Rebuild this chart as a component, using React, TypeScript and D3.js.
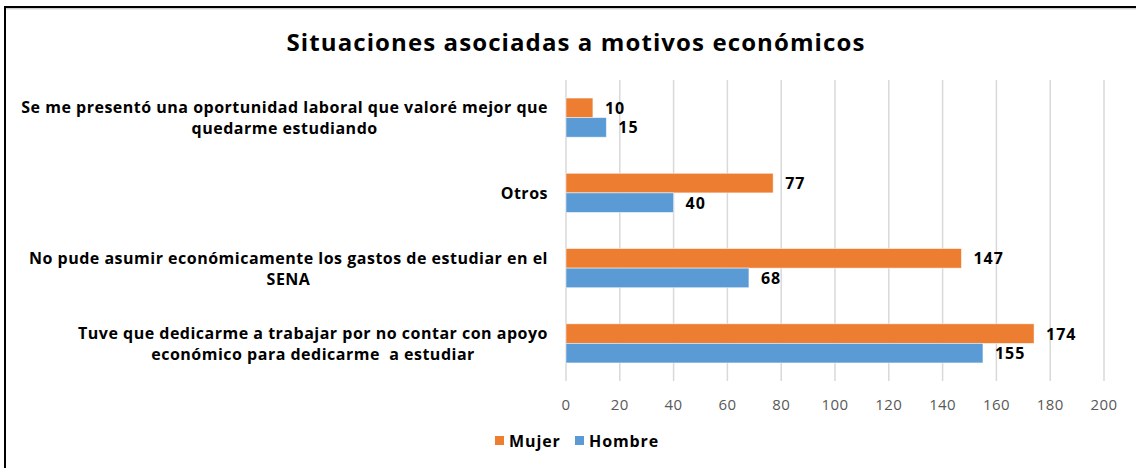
import React, { useMemo } from "react";
import * as d3 from "d3";

const categories: string[][] = [
  ["Se me presentó una oportunidad laboral que valoré mejor que", "quedarme estudiando"],
  ["Otros"],
  ["No pude asumir económicamente los gastos de estudiar en el", "SENA"],
  ["Tuve que dedicarme a trabajar por no contar con apoyo", "económico para dedicarme  a estudiar"],
];
const mujer = [10, 77, 147, 174];
const hombre = [15, 40, 68, 155];
const seriesNames = ["Mujer", "Hombre"];
const colors = ["#ED7D31", "#5B9BD5"];
const xTicks = [0, 20, 40, 60, 80, 100, 120, 140, 160, 180, 200];
const title = "Situaciones asociadas a motivos económicos";

const W = 1136;
const H = 468;
const FONT = "'Open Sans', sans-serif";
const plot = { left: 566, right: 1104, top: 80, bottom: 381 };
const LS = 0.5;

function measure(text: string, font: string): number {
  if (typeof document === "undefined") return text.length * 8;
  const c = document.createElement("canvas");
  const ctx = c.getContext("2d")!;
  ctx.font = font;
  return ctx.measureText(text).width + LS * text.length;
}

export default function App() {
  const x = d3.scaleLinear().domain([0, 200]).range([plot.left, plot.right]);
  const y = d3
    .scaleBand<number>()
    .domain(d3.range(categories.length))
    .range([plot.top, plot.bottom])
    .paddingInner(0.48)
    .paddingOuter(0.24);
  const sub = d3.scaleBand<number>().domain([0, 1]).range([0, y.bandwidth()]);
  const series = [mujer, hombre];
  const labelFont = `bold 16px ${FONT}`;
  const blocks = useMemo(
    () => categories.map((lines) => Math.max(...lines.map((l) => measure(l, labelFont)))),
    []
  );
  const labelRight = 548;
  const lineH = 21;

  return (
    <svg
      width={W}
      height={H}
      style={{ position: "absolute", left: 0, top: 0, background: "#fff" }}
      fontFamily={FONT}
    >
      <rect x={0} y={0} width={W} height={H} fill="#fff" />
      <rect x={5} y={7} width={W + 20} height={H + 20} fill="none" stroke="#000" strokeWidth={2} />
      <line x1={6} x2={W} y1={8.8} y2={8.8} stroke="#bbb" strokeWidth={1} />
      <text x={576} y={41} textAnchor="middle" dominantBaseline="central" fontSize={24} fontWeight="bold" fill="#000" letterSpacing={1.1}>
        {title}
      </text>
      {xTicks.map((t) => (
        <g key={t}>
          <line x1={x(t)} x2={x(t)} y1={plot.top} y2={plot.bottom} stroke="#D9D9D9" strokeWidth={1.5} />
          <text x={x(t)} y={404} textAnchor="middle" dominantBaseline="central" fontSize={15} fill="#595959" letterSpacing={0.4}>
            {t}
          </text>
        </g>
      ))}
      {categories.map((lines, i) => {
        const cy = (y(i) ?? 0) + y.bandwidth() / 2;
        const cx = labelRight - blocks[i] / 2;
        return (
          <g key={i}>
            {lines.map((l, j) => (
              <text
                key={j}
                x={cx}
                y={cy + (j - (lines.length - 1) / 2) * lineH}
                textAnchor="middle"
                dominantBaseline="central"
                fontSize={16}
                fontWeight="bold"
                fill="#000"
                letterSpacing={LS}
                style={{ whiteSpace: "pre" }}
              >
                {l}
              </text>
            ))}
            {series.map((s, k) => {
              const by = (y(i) ?? 0) + (sub(k) ?? 0);
              return (
                <g key={k}>
                  <rect
                    x={x(0)}
                    y={by}
                    width={x(s[i]) - x(0)}
                    height={sub.bandwidth()}
                    fill={colors[k]}
                    stroke="#fff"
                    strokeOpacity={0.6}
                    strokeWidth={0.8}
                  />
                  <text
                    x={x(s[i]) + 12}
                    y={by + sub.bandwidth() / 2}
                    dominantBaseline="central"
                    fontSize={16}
                    fontWeight="bold"
                    fill="#000"
                    letterSpacing={1}
                  >
                    {s[i]}
                  </text>
                </g>
              );
            })}
          </g>
        );
      })}
      <g>
        {seriesNames.map((n, k) => {
          const lx = k === 0 ? 495 : 575;
          return (
            <g key={n}>
              <rect x={lx} y={436} width={9} height={9} fill={colors[k]} />
              <text x={lx + 14} y={441} dominantBaseline="central" fontSize={16} fontWeight="bold" fill="#000" letterSpacing={0.9}>
                {n}
              </text>
            </g>
          );
        })}
      </g>
    </svg>
  );
}
